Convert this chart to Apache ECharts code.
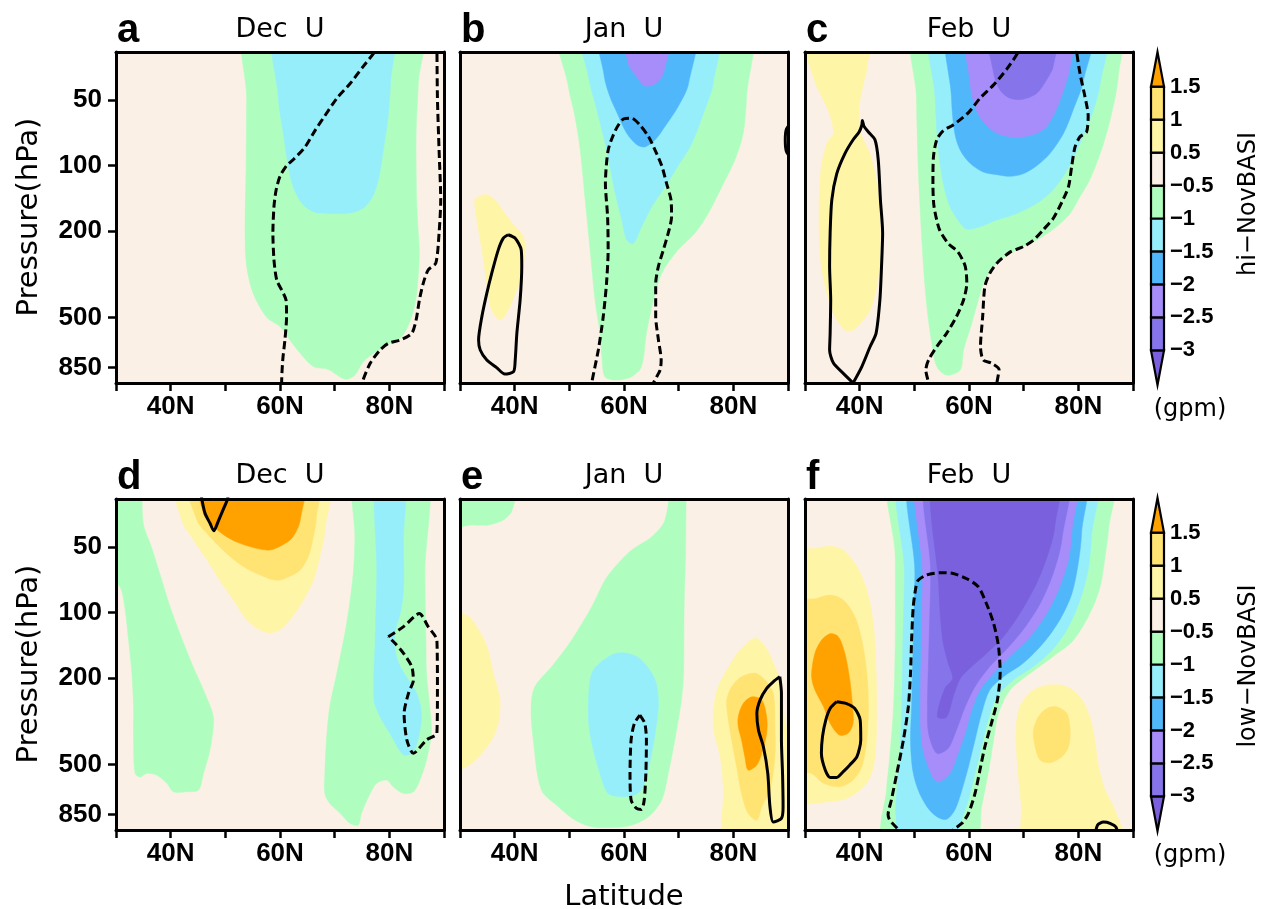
<!DOCTYPE html>
<html lang="en">
<head>
<meta charset="UTF-8">
<title>U response</title>
<style>
  html, body { margin: 0; padding: 0; background: #fff; }
  #main { width: 1261px; height: 909px; }
</style>
<script src="https://cdn.jsdelivr.net/npm/echarts@6/dist/echarts.min.js"></script>
</head>
<body>
<div id="main"></div>
<script>
// shading levels (gpm) and the colour of each band, lowest first
var levels = [-3, -2.5, -2, -1.5, -1, -0.5, 0.5, 1, 1.5];
var colors = ['#7A60DD', '#8675EA', '#A78DF9', '#50B8FA', '#96EEFA', '#AFFEBF',
              '#FBF0E5', '#FFF5A6', '#FFE373', '#FFA200'];

var pTicks = [50, 100, 200, 500, 850];
var latTicks = [40, 60, 80];
var pTop = 30, pBottom = 1000;
var titles = ['Dec  U', 'Jan  U', 'Feb  U', 'Dec  U', 'Jan  U', 'Feb  U'];
var tags = ['a', 'b', 'c', 'd', 'e', 'f'];
var cbarNames = ['hi\u2212NovBASI', 'low\u2212NovBASI'];

// filled regions: lev<0 -> area below lev, lev>0 -> area above lev; points are [lat, hPa]
var aFill = [
  { lev: -0.5, pts: [[54.1,20],[53.9,49],[53.8,100],[53.6,204],[53.9,290],[55.1,387],[57.6,500],[60,550],[61.8,634],[63.7,730],[66.1,840],[68.8,866],[71.9,960],[73.7,920],[75.2,800],[77.7,715],[80.1,657],[82.3,613],[84.1,495],[85,387],[85.5,253],[85.3,204],[85,144],[84.9,71],[85.3,42],[85.7,20]] },
  { lev: -1, pts: [[59.3,20],[59.7,49],[60.6,71],[61.5,100],[62.4,125],[64,149],[66.1,163],[69.1,166],[72.8,165],[75.2,157],[76.8,141],[78,116],[78.9,85],[79.8,59],[80.2,42],[80.4,20]] }
];
// significance contours: sign +1 solid, -1 dashed
var aSig = [
  { sign: -1, pts: [[78.2,27],[77.3,30],[75.2,35],[72.8,42],[70.4,49],[68.2,59],[66.4,69],[64.6,82],[62.4,94],[61.2,100],[60,112],[59.3,129],[58.9,154],[58.7,204],[58.9,272],[59.4,336],[60.3,373],[61.1,415],[61.2,495],[60.9,634],[60.5,784],[60.3,1000],[60.3,1100]] },
  { sign: -1, pts: [[88.7,27],[88.8,49],[89.1,85],[89.4,144],[89.1,204],[88.5,281],[87.1,302],[86.2,348],[85.5,415],[84.9,513],[84.1,591],[82,634],[79.8,657],[78.3,705],[76.5,812],[75,1000],[74.8,1100]] }
];

var bFill = [
  { lev: -0.5, pts: [[48.1,20],[49.8,43],[51,59],[52,85],[52.9,144],[53.8,244],[54.7,415],[55.6,591],[56,784],[56.5,935],[58.4,969],[61.4,935],[63.2,840],[64.1,591],[65.4,415],[66.9,313],[69.9,244],[73,204],[75.4,166],[77.9,125],[80.3,94],[81.8,71],[82.4,49],[82.6,20]] },
  { lev: -1, pts: [[52.1,20],[53.5,39],[55,55],[56.4,76],[57.4,100],[58.4,134],[59.6,178],[60.5,220],[61.7,228],[63.2,191],[65.1,154],[67.5,125],[69.9,100],[72.4,79],[74.8,55],[76.3,42],[77.1,20]] },
  { lev: -1.5, pts: [[55.4,20],[56.4,39],[57.4,48],[58.7,57],[60.5,71],[62.3,80],[63.8,82],[65.7,76],[67.5,66],[69.9,53.5],[71.8,42],[73,20]] },
  { lev: -2, pts: [[59.6,20],[60.8,34],[62.3,39],[63.8,43],[65.7,42],[67.2,37.6],[68.7,20]] },
  { lev: 0.5, pts: [[32.7,144],[33,172],[34,244],[34.9,348],[35.8,462],[37.3,513],[38.5,478],[40.1,387],[41.3,313],[41.9,244],[41.6,212],[40.1,191],[38.2,166],[36.4,144],[34.9,136],[33.4,139]] }
];
var bSig = [
  { sign: 1, pts: [[38.8,208],[40.1,216],[41.2,244],[41.3,290],[41,415],[40.4,591],[40.1,784],[39.8,887],[38.2,910],[36.7,850],[34.9,784],[33.7,705],[33.4,634],[34,495],[34.9,387],[35.8,313],[37,244],[37.9,216],[38.8,208]] },
  { sign: -1, pts: [[54,1100],[54.1,1000],[55.3,705],[56.2,495],[56.8,348],[57.1,244],[57,172],[56.6,121],[57.1,85],[58.4,69],[59.9,61],[61.4,60.5],[62.9,65],[64.5,73.6],[65.7,85],[66.9,100],[67.8,121],[68.6,144],[68.7,172],[68.1,204],[67.2,244],[66.3,290],[65.8,348],[65.8,495],[66.3,634],[66.8,784],[66.6,872],[65.4,1000],[65.2,1100]] },
  { sign: 1, pts: [[90.5,64],[89.7,68],[89.5,76],[89.7,86],[90.5,92]] }
];

var cFill = [
  { lev: 0.5, pts: [[28,20],[30.9,35],[32.1,43],[33.7,52],[34.6,59],[35.2,71],[34,79],[33,100],[32.6,144],[32.6,204],[33,290],[34,387],[35.5,495],[37.3,570],[38.8,570],[40.4,522],[41.9,462],[43,373],[43.7,272],[43.8,204],[43.6,144],[42.8,109],[41.9,88],[40.7,76],[40.1,69],[39.9,53.5],[40.7,42],[41.4,35],[41.8,20]] },
  { lev: -0.5, pts: [[50.4,20],[50.4,49],[50.7,100],[51.3,204],[51.9,348],[52.5,495],[53.2,657],[54.1,840],[55.9,920],[58.4,872],[59,705],[60.5,532],[61.7,415],[62.9,336],[65.1,281],[68.7,244],[72.4,220],[76,191],[78.5,166],[80.3,139],[82.1,116],[84,88],[85.5,66],[86.7,49],[87.3,39],[87.6,20]] },
  { lev: -1, pts: [[53.6,20],[53.8,49],[54.4,85],[55.3,121],[56.5,154],[58.4,184],[59.6,196],[62,191],[65.1,178],[68.7,166],[72.4,149],[75.4,129],[77.9,105],[80.3,79],[82.4,59],[84,42],[84.9,20]] },
  { lev: -1.5, pts: [[56.7,20],[56.8,49],[57.4,71],[58.4,85],[60.2,97.6],[62.6,107],[65.1,110],[67.5,112],[69.9,109],[72.4,100],[74.8,88],[77.3,71],[79.1,55],[80.9,41],[82.4,20]] },
  { lev: -2, pts: [[59.9,20],[60.2,42],[61.1,53.5],[62.6,63],[65.1,71],[67.5,73.6],[69.9,73.6],[72.4,71],[74.2,66],[76,55],[77.3,45],[78.5,35],[79.4,20]] },
  { lev: -2.5, pts: [[63.5,20],[64.5,37.6],[65.7,45],[67.5,49],[69.9,49.5],[72.4,46.5],[74.2,40.3],[75.4,35],[76.3,20]] }
];
var cSig = [
  { sign: 1, pts: [[38.8,1000],[37,903],[35.2,810],[34.5,705],[34.6,591],[34.7,415],[34.5,290],[34.6,204],[34.9,144],[35.8,109],[37.3,88],[38.8,76],[39.9,70],[40.4,65],[40.5,62],[40.8,66],[41.6,70],[42.8,76],[43.4,94],[43.8,144],[44.2,204],[44,290],[43.7,415],[43,591],[41.9,681],[40.4,840],[38.8,1000]] },
  { sign: -1, pts: [[69.6,27],[69,30],[66.9,36],[64.5,42.5],[62,49],[59.9,57],[57.1,65],[55.3,69],[54.1,76],[53.5,91],[53.4,121],[53.6,154],[54.6,197],[56.2,228],[58,250],[59.3,290],[59.6,348],[59,415],[57.7,495],[55.9,591],[54.1,681],[52.6,784],[52.1,872],[52.6,1000],[52.7,1100]] },
  { sign: -1, pts: [[79.6,27],[79.7,30],[80.3,37.6],[81.2,48],[81.8,59],[81.5,70],[80.3,73.6],[79.4,82],[78.8,100],[78.2,125],[77,147],[75.4,175],[73.6,197],[71.8,220],[69.9,236],[67.5,250],[65.1,281],[63.8,313],[62.9,360],[62.5,495],[62.1,681],[62.6,784],[64.1,810],[65.5,866],[65.1,1000],[65,1100]] }
];

var dFill = [
  { lev: -0.5, pts: [[28,20],[33.9,20],[35,39],[36.5,50],[38,66],[39.9,94],[41.7,125],[44.1,177],[46,227],[47.8,301],[47.5,385],[46.9,460],[46,549],[45.1,655],[42.9,667],[40.5,667],[39.3,610],[37.4,559],[35.6,549],[34.4,570],[33.5,549],[33.2,385],[33.2,271],[32.9,190],[32.3,134],[31.6,94],[30.7,76],[28,68]] },
  { lev: 0.5, pts: [[40.2,20],[42,37.5],[44.1,46],[46.6,57],[49,71],[51.5,87.5],[53.9,108],[56.3,120],[58.2,124],[60,120],[61.8,108],[64.3,87.5],[66.1,71],[67.3,55],[68.2,42],[68.8,20]] },
  { lev: 1, pts: [[42.6,20],[44.8,37.5],[47.2,44.7],[50.2,53.3],[53.3,61.4],[56.3,67],[59.4,71],[61.8,68],[63.7,63.6],[65.2,55],[66.1,44.7],[66.6,37.5],[67,20]] },
  { lev: 1.5, pts: [[44.8,20],[46,35],[47.8,40],[50.2,44.7],[52.7,48],[55.7,50.6],[58.2,51.5],[60.6,48.6],[62.4,44.7],[63.7,37.5],[64.4,20]] },
  { lev: -0.5, pts: [[73.9,20],[73.7,46],[73.4,66],[72.2,112],[70.4,190],[69.1,271],[68.5,385],[68.2,549],[68.2,679],[69.1,754],[71,838],[72.8,932],[74.3,950],[74.9,838],[76.5,679],[77.7,610],[79.5,589],[80.7,632],[82.6,679],[84.4,667],[85.6,589],[86.8,476],[87.7,359],[87.4,271],[86.8,190],[86.7,134],[86.5,66],[86.5,20]] },
  { lev: -1, pts: [[77.7,20],[77.7,66],[77.4,134],[77.2,252],[78.3,301],[80.1,359],[82.6,452],[84.4,436],[85.5,359],[85.9,291],[85,235],[83.5,204],[82,177],[81.2,154],[81,125],[82,101],[82.6,78.7],[82.6,46],[82.7,20]] }
];
var dSig = [
  { sign: 1, pts: [[45.5,27],[45.7,30],[46.3,35],[47.2,38.8],[47.9,42],[48.7,38],[49.6,33.6],[50.4,30],[50.6,27]] },
  { sign: -1, pts: [[79.8,129],[82.6,116],[85.5,101],[87.1,116],[88.7,134],[88.8,227],[88.7,359],[86.8,385],[84.4,444],[83.2,385],[82.7,291],[83.5,235],[84.4,204],[84.1,177],[82.6,154],[81,138],[79.8,129]] }
];

var eFill = [
  { lev: -0.5, pts: [[28,20],[41,20],[39.5,34],[37.9,37.5],[35.2,39.5],[32.1,39.5],[28,40]] },
  { lev: 0.5, pts: [[28,100],[31.5,104],[33.4,120],[34.9,143],[36.1,190],[37.3,252],[37,323],[35.8,385],[33.4,460],[31.2,511],[28,540]] },
  { lev: -0.5, pts: [[69.3,20],[67.5,37.5],[65.1,44.7],[61.4,51.5],[58.4,61.4],[56.5,71],[54.1,94],[50.4,134],[46.8,177],[43.7,219],[43,271],[43.4,385],[44.9,655],[48,781],[51,900],[54.1,966],[58.4,972],[61.4,950],[64.5,868],[66.9,728],[68.1,549],[69.3,385],[70.5,252],[70.9,190],[71,94],[71.3,46],[71,20]] },
  { lev: -1, pts: [[53.5,252],[54.1,190],[55.9,168],[58.4,154],[60.8,154],[63.2,165],[65.7,204],[66.3,262],[65.7,359],[64.8,476],[63.5,632],[62,690],[59.6,702],[57.1,679],[55.6,549],[54.4,429],[53.6,335]] },
  { lev: 0.5, pts: [[76.3,301],[77,227],[78.8,184],[81.2,149],[84,131],[85.8,143],[87.6,177],[88.8,219],[89.5,323],[91,385],[91,1100],[78.6,1100],[78.2,655],[77.6,460],[76.5,359]] },
  { lev: 1, pts: [[78.8,252],[79.7,219],[81.5,197],[84,190],[85.8,204],[87.3,235],[87.6,323],[87.6,460],[86.7,655],[85.2,781],[84.3,900],[82.7,838],[81.5,679],[80.6,511],[79.7,385],[79,301]] },
  { lev: 1.5, pts: [[80.9,301],[81.8,262],[83.4,244],[85.2,252],[86.1,301],[86.1,359],[85.2,444],[84.3,502],[82.7,530],[82.1,460],[81.5,385],[80.9,335]] }
];
var eSig = [
  { sign: -1, pts: [[62.9,296],[63.8,323],[64.1,385],[64,549],[63.7,728],[63.2,804],[62.3,796],[61.3,728],[61.1,549],[61.3,385],[61.9,323],[62.9,296]] },
  { sign: 1, pts: [[88.5,197],[88.8,235],[88.8,385],[89,549],[89.1,781],[88.8,884],[87.3,919],[86.7,781],[86.3,549],[85.5,414],[84.6,347],[84.3,291],[84.9,252],[86.1,223],[87.3,208],[88.5,197]] }
];

var fFill = [
  { lev: 0.5, pts: [[28,53],[32.1,50.6],[34.6,49.5],[37,51.5],[39.5,61.4],[41.3,78.7],[42.5,112],[43,190],[43.1,323],[42.8,460],[41.9,570],[40.1,655],[37.6,716],[34.6,740],[31.5,754],[28,760]] },
  { lev: 1, pts: [[28,91],[32.1,86],[34.6,83],[37,87.5],[39.1,104],[40.4,134],[41.3,190],[41.6,271],[41.3,385],[40.4,511],[38.8,589],[36.4,632],[33.4,610],[31.2,549],[28,530]] },
  { lev: 1.5, pts: [[31.2,190],[31.8,154],[33,134],[34.6,125],[36.1,129],[37.3,154],[38.2,204],[38.7,271],[38.8,323],[37.9,359],[36.3,366],[34.6,323],[33.4,271],[32.1,235],[31.4,211]] },
  { lev: 0.5, pts: [[70.2,1100],[69.6,781],[69,549],[68.6,359],[69.3,271],[71.8,227],[74.8,215],[77.9,219],[80.3,244],[82.1,301],[83,385],[83.7,511],[84.9,655],[86.7,810],[87.9,1100]] },
  { lev: 1, pts: [[71.8,347],[72.7,301],[74.2,276],[76,271],[77.9,291],[78.5,347],[78.2,414],[77,460],[74.8,490],[73,476],[72.1,414]] },
  { lev: -0.5, pts: [[46.3,20],[46.5,55],[46.5,134],[46.2,271],[45.5,460],[44.9,655],[44.5,1100],[61.1,1100],[62.3,781],[63.5,549],[64.5,385],[65.4,291],[67.5,227],[71.2,190],[75.4,159],[79.1,134],[82.1,101],[84,76],[84.9,55],[85.5,42],[86.1,20]] },
  { lev: -1, pts: [[48.2,20],[48.2,66],[47.9,134],[47.7,271],[47.3,460],[46.8,655],[46.6,838],[47.6,1100],[57.4,1100],[58.4,932],[59.9,728],[61.1,549],[62.3,414],[63.5,312],[65.1,244],[68.1,204],[71.8,177],[75.4,147],[78.2,116],[80.3,87.5],[81.8,63.6],[82.4,44.7],[83,20]] },
  { lev: -1.5, pts: [[50.1,20],[50.1,66],[49.8,134],[49.5,271],[49.3,385],[49.7,530],[50.7,655],[52.3,781],[54.1,868],[55.9,893],[57.4,810],[58.7,655],[59.9,511],[61.1,385],[62.3,291],[63.8,227],[66.3,197],[69.9,171],[73.6,138],[76.6,108],[78.8,82],[80,59],[80.6,43],[80.9,20]] },
  { lev: -2, pts: [[51.5,20],[51.5,66],[51.3,134],[51.1,271],[51.3,385],[52.1,476],[54.1,600],[56.5,549],[58,444],[59.3,359],[60.5,280],[62,227],[64.5,190],[67.5,159],[71.2,129],[74.2,101],[76.6,76],[78.2,57],[78.8,43],[79.2,20]] },
  { lev: -2.5, pts: [[53,20],[53,66],[52.7,134],[52.4,271],[52.6,359],[54.1,444],[56.2,421],[57.7,347],[59.3,271],[61.1,219],[63.8,177],[66.9,147],[69.9,120],[73,91],[75.4,66],[77,46],[77.7,20]] },
  { lev: -3, pts: [[54.4,20],[54.5,78.7],[55.2,134],[56.2,171],[57,201],[55.6,223],[54.2,301],[55.9,303],[57.1,244],[58.4,201],[60.5,177],[63.2,154],[66.3,129],[69.3,101],[72.4,73],[74.5,53.3],[75.7,40.2],[76.2,20]] }
];
var fSig = [
  { sign: 1, pts: [[35.8,257],[37.6,262],[39.1,276],[40.1,312],[40.2,385],[39.5,460],[38.2,502],[37,539],[35.8,573],[34.6,573],[33.7,530],[33,444],[33.2,372],[33.8,312],[34.6,276],[35.8,257]] },
  { sign: -1, pts: [[47.8,1100],[47.1,1000],[45.5,900],[45.2,850],[45.8,728],[46.8,549],[48,385],[48.9,271],[49.3,190],[49.5,134],[49.8,94],[50.3,76],[50.7,71],[52.3,67],[54.7,65.5],[57.1,66],[59.6,69.8],[61.7,76],[63.2,91],[64.5,112],[65.4,143],[65.7,190],[65.2,252],[64.1,323],[62.9,414],[62,530],[61.1,679],[59.9,838],[58.7,932],[57.1,1000],[56.5,1100]] },
  { sign: 1, pts: [[82.9,1100],[83.5,950],[84.6,919],[85.8,932],[86.9,972],[87.3,1100]] }
];

var chart = echarts.init(document.getElementById('main'));
var LAB = '"Liberation Sans", Arial, sans-serif';
var TXT = '"DejaVu Sans", sans-serif';
var cols = [116, 460, 805], rows = [52, 499], PW = 328, PH = 331;

function bandColor(lev) {
  var k = levels.indexOf(lev);
  return lev < 0 ? colors[k] : colors[k + 1];
}
function lg(p) { return Math.log10(p); }

var fills = [aFill, bFill, cFill, dFill, eFill, fFill];
var sigs = [aSig, bSig, cSig, dSig, eSig, fSig];

var grids = [], xAxes = [], yAxes = [], series = [], graphics = [];
var frame = { show: true, onZero: false, lineStyle: { color: '#000', width: 3 } };

fills.forEach(function (fill, i) {
  var col = i % 3, row = Math.floor(i / 3);
  grids.push({ left: cols[col], top: rows[row], width: PW, height: PH, show: true,
    backgroundColor: colors[6], borderWidth: 0 });
  xAxes.push({ gridIndex: i, type: 'value', min: 30, max: 90, interval: 10, position: 'bottom', z: 10,
    axisLine: frame,
    axisTick: { show: true, length: 8, lineStyle: { color: '#000', width: 2.5 } },
    axisLabel: { margin: 11, fontSize: 26, fontWeight: 'bold', fontFamily: LAB, color: '#000',
      formatter: function (v) { return latTicks.indexOf(v) >= 0 ? v + 'N' : ''; } },
    splitLine: { show: false } });
  xAxes.push({ gridIndex: i, type: 'value', min: 30, max: 90, position: 'top', z: 10,
    axisLine: frame, axisTick: { show: false }, axisLabel: { show: false }, splitLine: { show: false } });
  yAxes.push({ gridIndex: i, type: 'value', inverse: true, min: lg(pTop), max: lg(pBottom), position: 'left', z: 10,
    axisLine: frame,
    axisTick: { show: col === 0, length: 8, customValues: pTicks.map(lg), lineStyle: { color: '#000', width: 2.5 } },
    axisLabel: { show: col === 0, customValues: pTicks.map(lg), margin: 14, fontSize: 26, fontWeight: 'bold',
      fontFamily: LAB, color: '#000', formatter: function (v) { return Math.round(Math.pow(10, v)); } },
    splitLine: { show: false } });
  yAxes.push({ gridIndex: i, type: 'value', inverse: true, min: lg(pTop), max: lg(pBottom), position: 'right', z: 10,
    axisLine: frame, axisTick: { show: false }, axisLabel: { show: false }, splitLine: { show: false } });

  series.push({
    type: 'custom', xAxisIndex: 2 * i, yAxisIndex: 2 * i, clip: true, silent: true, z: 2,
    data: fill.map(function (r, k) { return [60, 2, k]; }),
    renderItem: function (params, api) {
      var r = fill[api.value(2)];
      var pts = r.pts.map(function (p) { return api.coord([p[0], lg(p[1])]); });
      return { type: 'polygon', shape: { points: pts, smooth: 0.3 },
        style: { fill: bandColor(r.lev), stroke: bandColor(r.lev), lineWidth: 0.5 } };
    }
  });
  sigs[i].forEach(function (s) {
    series.push({
      type: 'line', xAxisIndex: 2 * i, yAxisIndex: 2 * i, clip: true, silent: true, z: 5,
      symbol: 'none', smooth: 0.25,
      data: s.pts.map(function (p) { return [p[0], lg(p[1])]; }),
      lineStyle: { color: '#000', width: 3, type: s.sign < 0 ? [8, 4] : 'solid' }
    });
  });

  var cx = cols[col] + PW / 2;
  graphics.push({ type: 'text', x: cx, y: row ? 476 : 29.5,
    style: { text: titles[i], font: '27px ' + TXT, fill: '#000', align: 'center', verticalAlign: 'middle' } });
  graphics.push({ type: 'text', x: cols[col] + 1, y: row ? 478 : 31,
    style: { text: tags[i], font: 'bold 40px ' + LAB, fill: '#000', align: 'left', verticalAlign: 'middle' } });
});

// colour bars
[52, 498].forEach(function (top, j) {
  var gi = grids.length;
  grids.push({ left: 1151, top: top, width: 13, height: 333 });
  xAxes.push({ gridIndex: gi, type: 'value', min: 0, max: 1, show: false });
  yAxes.push({ gridIndex: gi, type: 'value', min: -1.05, max: 9.05, position: 'right',
    axisLine: { show: false }, axisTick: { show: false }, splitLine: { show: false },
    axisLabel: { customValues: [0, 1, 2, 3, 4, 5, 6, 7, 8], margin: 6, fontSize: 22, fontWeight: 'bold',
      fontFamily: LAB, color: '#000',
      formatter: function (v) { return String(levels[Math.round(v)]).replace('-', '\u2212'); } } });
  series.push({
    type: 'custom', xAxisIndex: xAxes.length - 1, yAxisIndex: yAxes.length - 1, clip: false, silent: true,
    data: colors.map(function (c, k) { return [0.5, k, k]; }),
    renderItem: function (params, api) {
      var k = api.value(2), pts;
      if (k === 0) pts = [api.coord([0, 0]), api.coord([1, 0]), api.coord([0.5, -1.05])];
      else if (k === colors.length - 1) pts = [api.coord([0, 8]), api.coord([1, 8]), api.coord([0.5, 9.05])];
      else pts = [api.coord([0, k - 1]), api.coord([1, k - 1]), api.coord([1, k]), api.coord([0, k])];
      return { type: 'polygon', shape: { points: pts },
        style: { fill: colors[k], stroke: '#000', lineWidth: 2.2 } };
    }
  });
  graphics.push({ type: 'text', x: 1249, y: j ? 666 : 204, rotation: Math.PI / 2,
    style: { text: cbarNames[j], font: '24px ' + TXT, fill: '#000', align: 'center', verticalAlign: 'middle' } });
  graphics.push({ type: 'text', x: 1190, y: j ? 856 : 410,
    style: { text: '(gpm)', font: '24px ' + TXT, fill: '#000', align: 'center', verticalAlign: 'middle' } });
});

[217, 664].forEach(function (y) {
  graphics.push({ type: 'text', x: 29, y: y, rotation: Math.PI / 2,
    style: { text: 'Pressure(hPa)', font: '29px ' + TXT, fill: '#000', align: 'center', verticalAlign: 'middle' } });
});
graphics.push({ type: 'text', x: 624, y: 897,
  style: { text: 'Latitude', font: '29px ' + TXT, fill: '#000', align: 'center', verticalAlign: 'middle' } });

chart.setOption({
  animation: false,
  backgroundColor: '#fff',
  grid: grids,
  xAxis: xAxes,
  yAxis: yAxes,
  series: series,
  graphic: graphics
});
</script>
</body>
</html>
